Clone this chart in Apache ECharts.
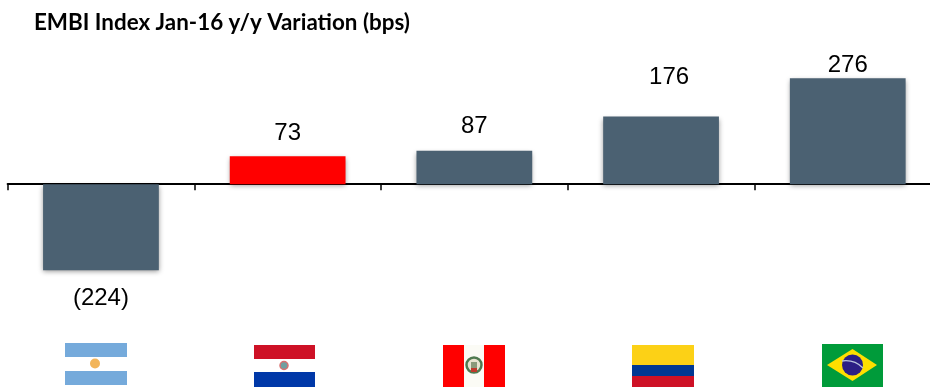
<!DOCTYPE html>
<html>
<head>
<meta charset="utf-8">
<style>html,body{margin:0;padding:0;background:#fff}#c{width:930px;height:387px}</style>
<script src="https://cdn.jsdelivr.net/npm/echarts@6/dist/echarts.min.js"></script>
</head>
<body>
<div id="c"></div>
<script>
const categories = ['Argentina', 'Paraguay', 'Peru', 'Colombia', 'Brazil'];
const variation = [-224, 73, 87, 176, 276];
const barColors = ['#4B6172', '#FF0000', '#4B6172', '#4B6172', '#4B6172'];
// Extra gap between each bar's end and its value label, and sideways nudge
const labelGaps = [11, 6, 7, 22, -4];
const labelShifts = [0, 0, 0, 8, 0];

const rect = (x, y, width, height, fill) => ({
  type: 'rect', shape: { x, y, width, height }, style: { fill }
});
const disc = (cx, cy, r, fill, extra) => ({
  type: 'circle', shape: { cx, cy, r }, style: Object.assign({ fill }, extra)
});

const flags = [
  // Argentina
  rect(65, 343, 62, 42, '#FFFFFF'),
  rect(65, 343, 62, 14, '#75AADB'),
  rect(65, 371, 62, 14, '#75AADB'),
  disc(95, 363.5, 5, '#F2B55A'),
  // Paraguay
  rect(254, 345, 61, 14, '#CE1126'),
  rect(254, 359, 61, 13, '#FFFFFF'),
  rect(254, 372, 61, 15, '#0038A8'),
  disc(284, 365.5, 4, '#6F9FA0', { stroke: '#D9706F', lineWidth: 1.5 }),
  // Peru
  rect(443, 345, 21, 42, '#FF0000'),
  rect(464, 345, 20, 42, '#FBFBF5'),
  rect(484, 345, 21, 42, '#FF0000'),
  disc(474, 365, 7.5, '#E8E4D0', { stroke: '#4F7A50', lineWidth: 2.5 }),
  rect(471, 362, 6, 6, '#8A9A7A'),
  rect(471, 368, 6, 4, '#C0392B'),
  // Colombia
  rect(632, 345, 62, 20, '#FCD116'),
  rect(632, 365, 62, 11, '#003893'),
  rect(632, 376, 62, 11, '#CE1126'),
  // Brazil
  rect(822, 344, 61, 43, '#009B3A'),
  {
    type: 'polygon',
    shape: { points: [[827, 365], [852.5, 349], [877, 365], [852.5, 381]] },
    style: { fill: '#FEDF00' }
  },
  disc(852.5, 365, 10.5, '#2B1F85'),
  {
    type: 'bezierCurve',
    shape: { x1: 842, y1: 361, cpx1: 849, cpy1: 360, x2: 863, y2: 368, cpx2: 857, cpy2: 362 },
    style: { stroke: '#B9C4DC', lineWidth: 1.3, fill: 'none' }
  }
];

const chart = echarts.init(document.getElementById('c'), null, { renderer: 'canvas' });
chart.setOption({
  animation: false,
  backgroundColor: '#fff',
  title: {
    text: 'EMBI Index Jan-16 y/y Variation (bps)',
    left: 29, top: 7,
    textStyle: { fontFamily: 'Lato', fontWeight: 'bold', fontSize: 22.4, color: '#000' }
  },
  grid: { left: 7.6, width: 933.5, top: 30.6, height: 307.2, outerBoundsMode: 'none', containLabel: false },
  xAxis: {
    type: 'category',
    data: categories,
    axisLine: { onZero: true, lineStyle: { color: '#000', width: 2 } },
    axisTick: { show: true, length: 6, lineStyle: { color: '#000', width: 1.5 } },
    axisLabel: { show: false },
    splitLine: { show: false }
  },
  yAxis: { type: 'value', min: -400, max: 400, show: false, splitLine: { show: false } },
  series: [{
    type: 'bar',
    barWidth: '62%',
    data: variation.map((value, i) => ({
      value,
      itemStyle: { color: barColors[i] },
      label: {
        offset: [labelShifts[i], value < 0 ? labelGaps[i] : -labelGaps[i]],
        position: value < 0 ? 'bottom' : 'top'
      }
    })),
    itemStyle: { shadowBlur: 5, shadowOffsetY: 2, shadowColor: 'rgba(0,0,0,0.4)' },
    label: {
      show: true,
      fontFamily: 'Liberation Sans',
      fontSize: 24,
      color: '#000',
      formatter: p => (p.value < 0 ? '(' + Math.abs(p.value) + ')' : String(p.value))
    }
  }],
  graphic: { type: 'group', silent: true, children: flags }
});
</script>
</body>
</html>
